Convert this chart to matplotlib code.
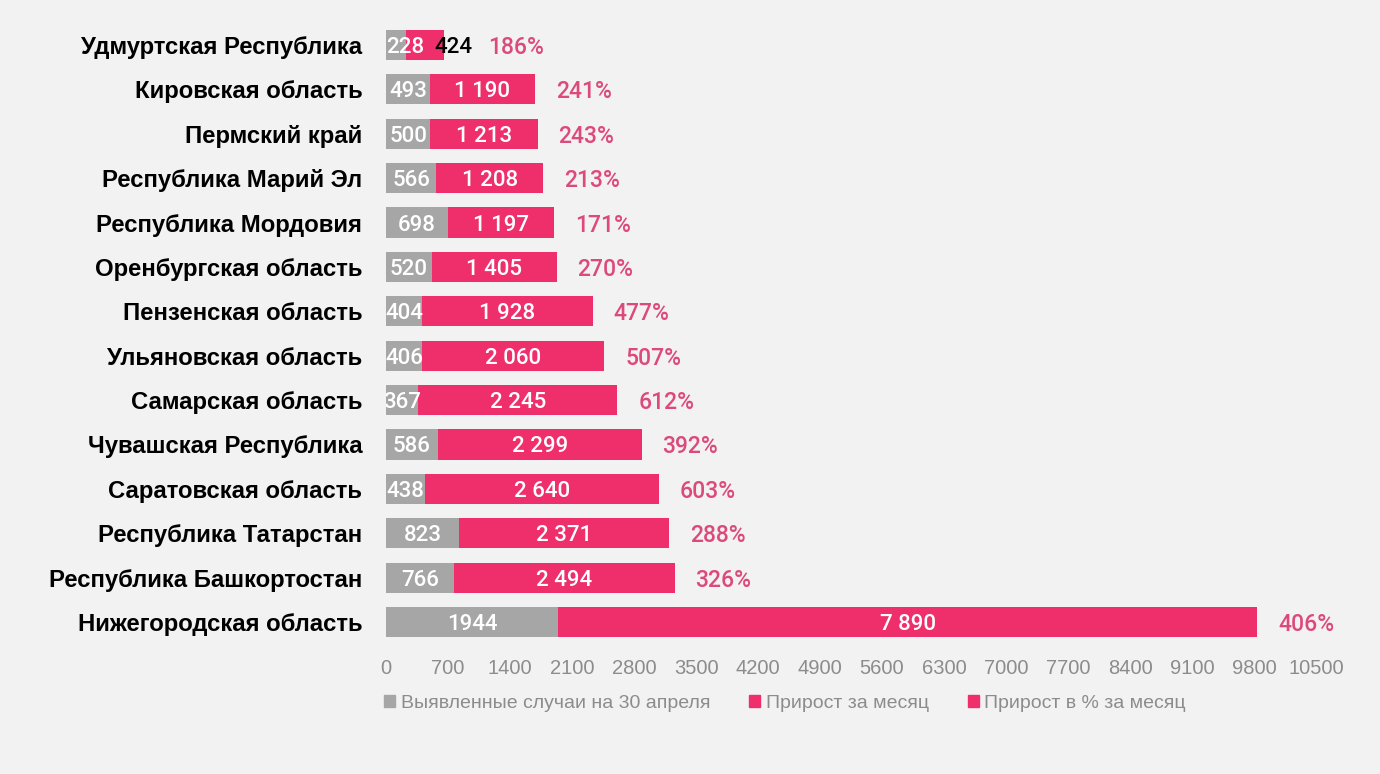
import matplotlib
matplotlib.use("Agg")
import matplotlib.pyplot as plt
from matplotlib.patches import Patch

plt.rcParams['font.family'] = ['Liberation Sans', 'DejaVu Sans']

# data, top to bottom
regions = [
    'Удмуртская Республика', 'Кировская область', 'Пермский край',
    'Республика Марий Эл', 'Республика Мордовия', 'Оренбургская область',
    'Пензенская область', 'Ульяновская область', 'Самарская область',
    'Чувашская Республика', 'Саратовская область', 'Республика Татарстан',
    'Республика Башкортостан', 'Нижегородская область',
]
cases_apr30 = [228, 493, 500, 566, 698, 520, 404, 406, 367, 586, 438, 823, 766, 1944]
growth_month = [424, 1190, 1213, 1208, 1197, 1405, 1928, 2060, 2245, 2299, 2640, 2371, 2494, 7890]
growth_pct = [186, 241, 243, 213, 171, 270, 477, 507, 612, 392, 603, 288, 326, 406]
x_ticks = list(range(0, 10501, 700))

BG = '#f2f2f2'
GRAY = '#a6a6a6'
PINK = '#ee2f6c'
PCT = '#dc4a7c'
TICK = '#8c8c8c'
VAL_FONT = dict(family=['Roboto', 'Liberation Sans'], fontweight='medium')

fig = plt.figure(figsize=(13.8, 7.74), dpi=100, facecolor=BG)
ax = fig.add_axes([0.2797, 0.1677, 0.674, 0.8028])
ax.set_facecolor(BG)

ys = list(range(len(regions)))
ax.barh(ys, cases_apr30, height=0.68, color=GRAY)
ax.barh(ys, growth_month, left=cases_apr30, height=0.68, color=PINK)

for i in ys:
    g, p, pc = cases_apr30[i], growth_month[i], growth_pct[i]
    total = g + p
    # gray segment label
    if g < 300:
        ax.annotate(str(g), (0, i), xytext=(0, 0), textcoords='offset points',
                    ha='left', va='center_baseline', color='white', fontsize=16, **VAL_FONT)
    else:
        ax.annotate(str(g), (g / 2, i), ha='center', va='center_baseline',
                    color='white', fontsize=16, clip_on=True, **VAL_FONT)
    plabel = f'{p:,}'.replace(',', ' ')
    if p < 600:
        # too narrow - label sits past the bar end in black
        ax.annotate(plabel, (total, i), xytext=(-7, 0), textcoords='offset points',
                    ha='left', va='center_baseline', color='black', fontsize=16, **VAL_FONT)
        off = 32
    else:
        ax.annotate(plabel, (g + p / 2, i), ha='center', va='center_baseline',
                    color='white', fontsize=16, **VAL_FONT)
        off = 15
    ax.annotate(f'{pc}%', (total, i), xytext=(off, 0), textcoords='offset points',
                ha='left', va='center_baseline', color=PCT, fontsize=16.5, **VAL_FONT)

ax.set_xlim(0, 10500)
ax.set_ylim(len(regions) - 0.5, -0.5)
ax.set_xticks(x_ticks)
ax.set_xticklabels([str(t) for t in x_ticks], color=TICK, fontsize=14.5)
ax.set_yticks(ys)
ax.set_yticklabels(regions, fontsize=17.2, fontweight='bold', color='black')
ax.tick_params(axis='x', length=0, pad=11)
ax.tick_params(axis='y', length=0, pad=17)
for s in ax.spines.values():
    s.set_visible(False)

handles = [Patch(color=GRAY), Patch(color=PINK), Patch(color=PINK)]
labels = ['Выявленные случаи на 30 апреля', 'Прирост за месяц', 'Прирост в % за месяц']
leg = fig.legend(handles, labels, loc='center', bbox_to_anchor=(0.569, 0.0917),
                 ncol=3, frameon=False, fontsize=14, handlelength=0.55,
                 handleheight=0.55, handletextpad=0.3, columnspacing=2.0)
for t in leg.get_texts():
    t.set_color(TICK)

fig.savefig('out.png', dpi=100, facecolor=BG)
